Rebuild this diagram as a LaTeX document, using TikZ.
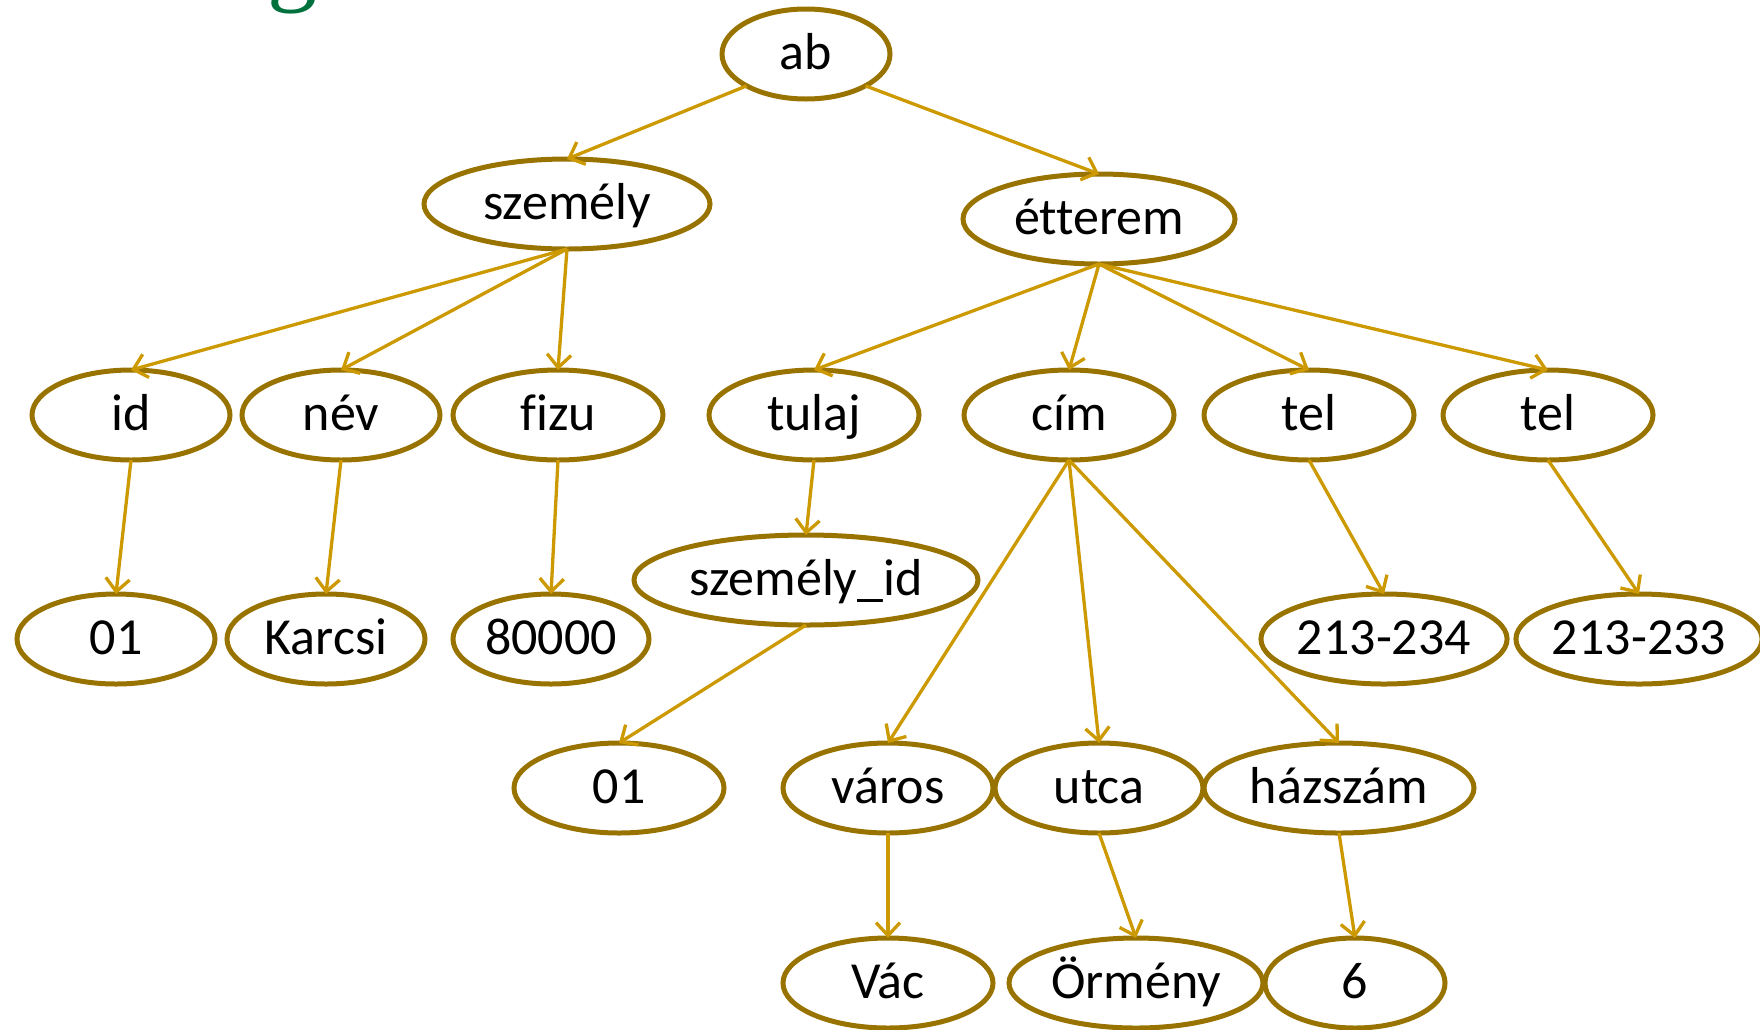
\documentclass[tikz,border=0pt]{standalone}
\usepackage{fontspec}
\setmainfont[Ligatures={NoCommon}]{Carlito}
\newfontfamily\titlefont{Liberation Serif}
\usetikzlibrary{shapes.geometric,arrows.meta}
\definecolor{rim}{RGB}{153,115,0}
\definecolor{arrowc}{RGB}{204,153,0}
\definecolor{titlegreen}{RGB}{0,112,60}
\begin{document}
\begin{tikzpicture}[x=1pt,y=-1pt,
  el/.style={ellipse, draw=rim, line width=5pt, inner sep=0pt, outer sep=0pt,
    minimum height=90pt, font=\fontsize{52}{60}\selectfont,
    text height=40pt, text depth=9pt},
  arr/.style={draw=arrowc, line width=3.3pt, -{Straight Barb[length=13pt,width=24pt]}}]
\useasboundingbox (0,0) rectangle (1760,1029);
\begin{scope}
\clip (0,0) rectangle (1760,1029);
\node[text=titlegreen, font=\titlefont\fontsize{100}{100}\selectfont, anchor=base, inner sep=0pt] (gfrag) at (292,-8) {g};
\end{scope}
% level 0
\node[el, minimum width=168pt] (ab) at (806,54) {ab};
% level 1
\node[el, minimum width=286pt] (szemely) at (567,204) {személy};
\node[el, minimum width=272pt] (etterem) at (1099,219) {étterem};
% level 2
\node[el, minimum width=198pt] (id) at (131,415) {id};
\node[el, minimum width=198pt] (nev) at (341,415) {név};
\node[el, minimum width=210pt] (fizu) at (558,415) {fizu};
\node[el, minimum width=210pt] (tulaj) at (814,415) {tulaj};
\node[el, minimum width=210pt] (cim) at (1069,415) {cím};
\node[el, minimum width=210pt] (telA) at (1309,415) {tel};
\node[el, minimum width=210pt] (telB) at (1548,415) {tel};
% level 3
\node[el, minimum width=344pt] (szid) at (806,580) {személy\_id};
\node[el, minimum width=198pt] (idv) at (116,639) {01};
\node[el, minimum width=198pt] (nevv) at (326,639) {Karcsi};
\node[el, minimum width=196pt] (fizuv) at (551,639) {80000};
\node[el, minimum width=240pt] (telAv) at (1384,639) {213-234};
\node[el, minimum width=242pt] (telBv) at (1639,639) {213-233};
% level 4
\node[el, minimum width=210pt] (szidv) at (619,788) {01};
\node[el, minimum width=210pt] (varos) at (888,788) {város};
\node[el, minimum width=208pt] (utca) at (1099,788) {utca};
\node[el, minimum width=270pt] (hazszam) at (1339,788) {házszám};
% level 5
\node[el, minimum width=210pt] (vac) at (888,983) {Vác};
\node[el, minimum width=254pt] (ormeny) at (1136,983) {Örmény};
\node[el, minimum width=180pt] (hat) at (1355,983) {6};
% connectors
\draw[arr] (ab.south west) -- (szemely.north);
\draw[arr] (ab.south east) -- (etterem.north);
\draw[arr] (szemely.south) -- (id.north);
\draw[arr] (szemely.south) -- (nev.north);
\draw[arr] (szemely.south) -- (fizu.north);
\draw[arr] (etterem.south) -- (tulaj.north);
\draw[arr] (etterem.south) -- (cim.north);
\draw[arr] (etterem.south) -- (telA.north);
\draw[arr] (etterem.south) -- (telB.north);
\draw[arr] (id.south) -- (idv.north);
\draw[arr] (nev.south) -- (nevv.north);
\draw[arr] (fizu.south) -- (fizuv.north);
\draw[arr] (tulaj.south) -- (szid.north);
\draw[arr] (szid.south) -- (szidv.north);
\draw[arr] (cim.south) -- (varos.north);
\draw[arr] (cim.south) -- (utca.north);
\draw[arr] (cim.south) -- (hazszam.north);
\draw[arr] (telA.south) -- (telAv.north);
\draw[arr] (telB.south) -- (telBv.north);
\draw[arr] (varos.south) -- (vac.north);
\draw[arr] (utca.south) -- (ormeny.north);
\draw[arr] (hazszam.south) -- (hat.north);
\end{tikzpicture}
\end{document}
